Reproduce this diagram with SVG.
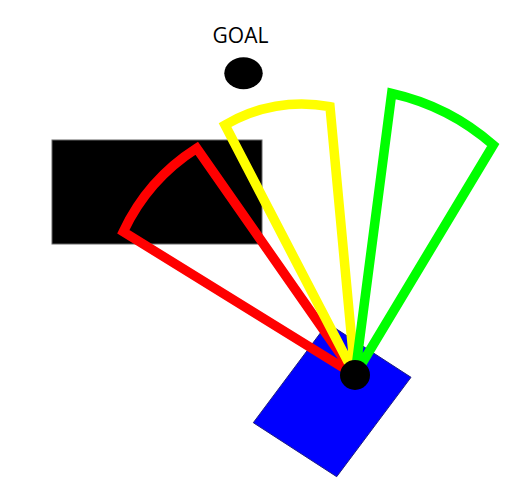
<svg xmlns="http://www.w3.org/2000/svg" width="510" height="498" viewBox="0 0 510 498">
<style>
.wedge{fill:none;stroke-width:9.5;stroke-linejoin:miter}
.lbl{font-family:"Open Sans","Liberation Sans",sans-serif;font-size:21px;fill:#000}
</style>
<rect width="510" height="498" fill="#fff"/>
<g id="goal">
<text class="lbl" x="240.5" y="42.5" text-anchor="middle">GOAL</text>
<ellipse cx="243.5" cy="73.3" rx="19.2" ry="16" fill="#000"/>
</g>
<g id="obstacle">
<rect x="52" y="140" width="210" height="104" fill="#000" stroke="#666" stroke-width="1"/>
</g>
<g id="robot">
<polygon points="327.6,323.3 411,377.3 336.7,476.7 253.3,422.7" fill="#0000ff" stroke="#202080" stroke-width="1"/>
</g>
<g id="connectors">
<path id="red" class="wedge" stroke="#ff0000" d="M355,375 L123.3,231.7 A200,200 0 0 1 196.7,148.3 Z"/>
<path id="yellow" class="wedge" stroke="#ffff00" d="M355,375 L225,125 A150,150 0 0 1 330,106.7 Z"/>
<path id="green" class="wedge" stroke="#00ff00" d="M355,375 L391.7,93.3 A230,230 0 0 1 493.3,145 Z"/>
</g>
<g id="pivot">
<circle cx="355" cy="375" r="15" fill="#000"/>
</g>
</svg>
